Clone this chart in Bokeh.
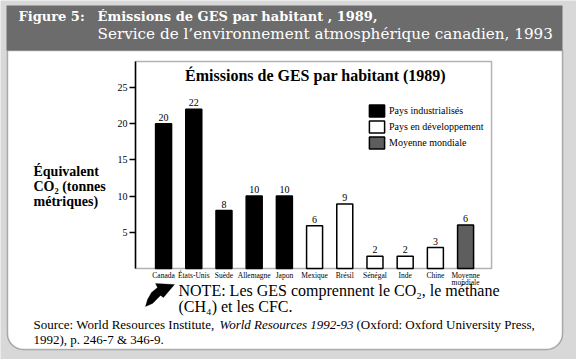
from bokeh.plotting import figure
from bokeh.models import (Range1d, FixedTicker, ColumnDataSource, Label, BoxAnnotation,
                          PolyAnnotation, Legend, LegendItem, LinearAxis)
from bokeh.embed import file_html
from bokeh.resources import INLINE
from bokeh.core.properties import value

# ---- data ----
countries = ["Canada", "États-Unis", "Suède", "Allemagne", "Japon", "Mexique",
             "Brésil", "Sénégal", "Inde", "Chine", "Moyenne mondiale"]
tick_labels = ["Canada", "États-Unis", "Suède", "Allemagne", "Japon", "Mexique",
               "Brésil", "Sénégal", "Inde", "Chine", "Moyenne\nmondiale"]
emissions = [20, 22, 8, 10, 10, 5.9, 8.9, 1.7, 1.7, 2.9, 6.0]
value_labels = ["20", "22", "8", "10", "10", "6", "9", "2", "2", "3", "6"]
groups = ["Pays industrialisés"] * 5 + ["Pays en développement"] * 5 + ["Moyenne mondiale"]
group_names = ["Pays industrialisés", "Pays en développement", "Moyenne mondiale"]
group_colors = ["#000000", "#ffffff", "#5e5e5e"]
y_ticks = [5, 10, 15, 20, 25]

# chart box extent in data units
X_LO, X_HI = -0.93, 10.86
Y_LO, Y_HI = 0, 28.6

SERIF = "Liberation Serif"
HEAD = "DejaVu Serif"

W, H = 576, 359
p = figure(width=W, height=H, output_backend="svg", toolbar_location=None,
           x_range=Range1d(-5.40, 13.673), y_range=Range1d(-12.569, 37.017),
           min_border=0, x_axis_type=None, y_axis_type=None)
p.border_fill_color = "#d8d8d8"
p.background_fill_color = "#d8d8d8"
p.outline_line_color = None
p.xgrid.visible = False
p.ygrid.visible = False

# ---- decorative panels (screen units, origin bottom-left of page) ----
white_box = BoxAnnotation(left=7, right=562, top=309, bottom=10,
                          left_units="screen", right_units="screen",
                          top_units="screen", bottom_units="screen",
                          fill_color="#ffffff", fill_alpha=1.0,
                          line_color="#111111", line_width=1.5, level="underlay",
                          border_radius=dict(top_left=0, top_right=0, bottom_right=16, bottom_left=16))
banner = BoxAnnotation(left=6, right=562, top=354, bottom=309,
                       left_units="screen", right_units="screen",
                       top_units="screen", bottom_units="screen",
                       fill_color="#6c6c6c", fill_alpha=1.0, line_color=None, level="underlay")
p.add_layout(white_box)
p.add_layout(banner)

# chart box outline
p.add_layout(BoxAnnotation(left=X_LO, right=X_HI, bottom=Y_LO, top=Y_HI,
                           fill_alpha=0, line_color="#000000", line_width=1.5, level="underlay"))

# ---- bars ----
items = []
for g, c in zip(group_names, group_colors):
    idx = [i for i, gg in enumerate(groups) if gg == g]
    src = ColumnDataSource(dict(x=idx, top=[emissions[i] for i in idx]))
    r = p.vbar(x="x", top="top", width=0.53, bottom=0, source=src,
               fill_color=c, line_color="#000000", line_width=1.5)
    items.append(LegendItem(label=g, renderers=[r]))

lab_src = ColumnDataSource(dict(x=list(range(len(countries))), y=emissions, t=value_labels))
p.text(x="x", y="y", text="t", source=lab_src, text_align="center", text_baseline="bottom",
       y_offset=-3, text_font=value(SERIF), text_font_size="10px", text_color="#000000")

# category labels under the chart box (one row per text line)
line1 = [t.split("\n")[0] for t in tick_labels]
line2 = [t.split("\n")[1] if "\n" in t else "" for t in tick_labels]
cat_src = ColumnDataSource(dict(x=list(range(len(countries))), y=[Y_LO] * len(countries),
                                l1=line1, l2=line2))
p.text(x="x", y="y", text="l1", source=cat_src, text_align="center", text_baseline="middle",
       y_offset=7, text_font=value(SERIF), text_font_size="7.5px", text_color="#000000")
p.text(x="x", y="y", text="l2", source=cat_src, text_align="center", text_baseline="middle",
       y_offset=14, text_font=value(SERIF), text_font_size="7.5px", text_color="#000000")

legend = Legend(items=items, location=(367, 209), orientation="vertical",
                glyph_width=19, glyph_height=15, label_height=15, spacing=1, padding=0,
                margin=0, label_standoff=3, border_line_color=None,
                background_fill_alpha=0, label_text_font=SERIF, label_text_font_size="10px",
                label_text_color="#000000")
p.add_layout(legend)

# ---- y axis (fixed to the chart box) ----
yax = LinearAxis(fixed_location=X_LO, bounds=(Y_LO, Y_HI), ticker=FixedTicker(ticks=y_ticks))
yax.minor_tick_line_color = None
yax.major_tick_out = 6
yax.major_tick_in = 0
yax.major_tick_line_width = 1.5
yax.axis_line_width = 1.5
yax.major_label_text_font = SERIF
yax.major_label_text_font_size = "10px"
yax.major_label_text_color = "#000000"
yax.major_label_standoff = 2
p.add_layout(yax, "left")


def lab(text, x, y, font, size, style="normal", color="#000000", align="left"):
    p.add_layout(Label(x=x, y=y, x_units="screen", y_units="screen", text=text,
                       text_font=font, text_font_size=size, text_font_style=style,
                       text_color=color, text_align=align, text_baseline="middle"))


# header
lab("Figure 5:", 18, 343, HEAD, "13px", "bold", "#ffffff")
lab("Émissions de GES par habitant , 1989,", 97, 343, HEAD, "13px", "bold", "#ffffff")
lab("Service de l’environnement atmosphérique canadien, 1993", 97, 326, HEAD, "15.2px", "normal", "#ffffff")

# chart title
lab("Émissions de GES par habitant (1989)", 315, 284, SERIF, "16px", "bold", align="center")

# y label
lab("Équivalent", 33, 188, SERIF, "14px", "bold")
lab("CO₂ (tonnes", 33, 173, SERIF, "14px", "bold")
lab("métriques)", 33, 158, SERIF, "14px", "bold")

# note
lab("NOTE: Les GES comprennent le CO₂, le méthane", 178, 69, SERIF, "16px")
lab("(CH₄) et les CFC.", 178, 53, SERIF, "16px")

# arrow
arrow_x = [145, 152, 157, 160, 163, 174, 155, 157, 151, 147]
arrow_y = [53, 56, 61, 64, 62, 75, 76, 72, 67, 60]
p.add_layout(PolyAnnotation(xs=arrow_x, ys=arrow_y, xs_units="screen", ys_units="screen",
                            fill_color="#000000", fill_alpha=1, line_color="#000000"))

# source
lab("Source: World Resources Institute,", 33, 35, SERIF, "13px")
lab("World Resources 1992-93", 219, 35, SERIF, "13px", "italic")
lab("(Oxford: Oxford University Press,", 356, 35, SERIF, "13px")
lab("1992), p. 246-7 & 346-9.", 33, 20, SERIF, "13px")

open("out.html", "w").write(file_html(p, INLINE))
